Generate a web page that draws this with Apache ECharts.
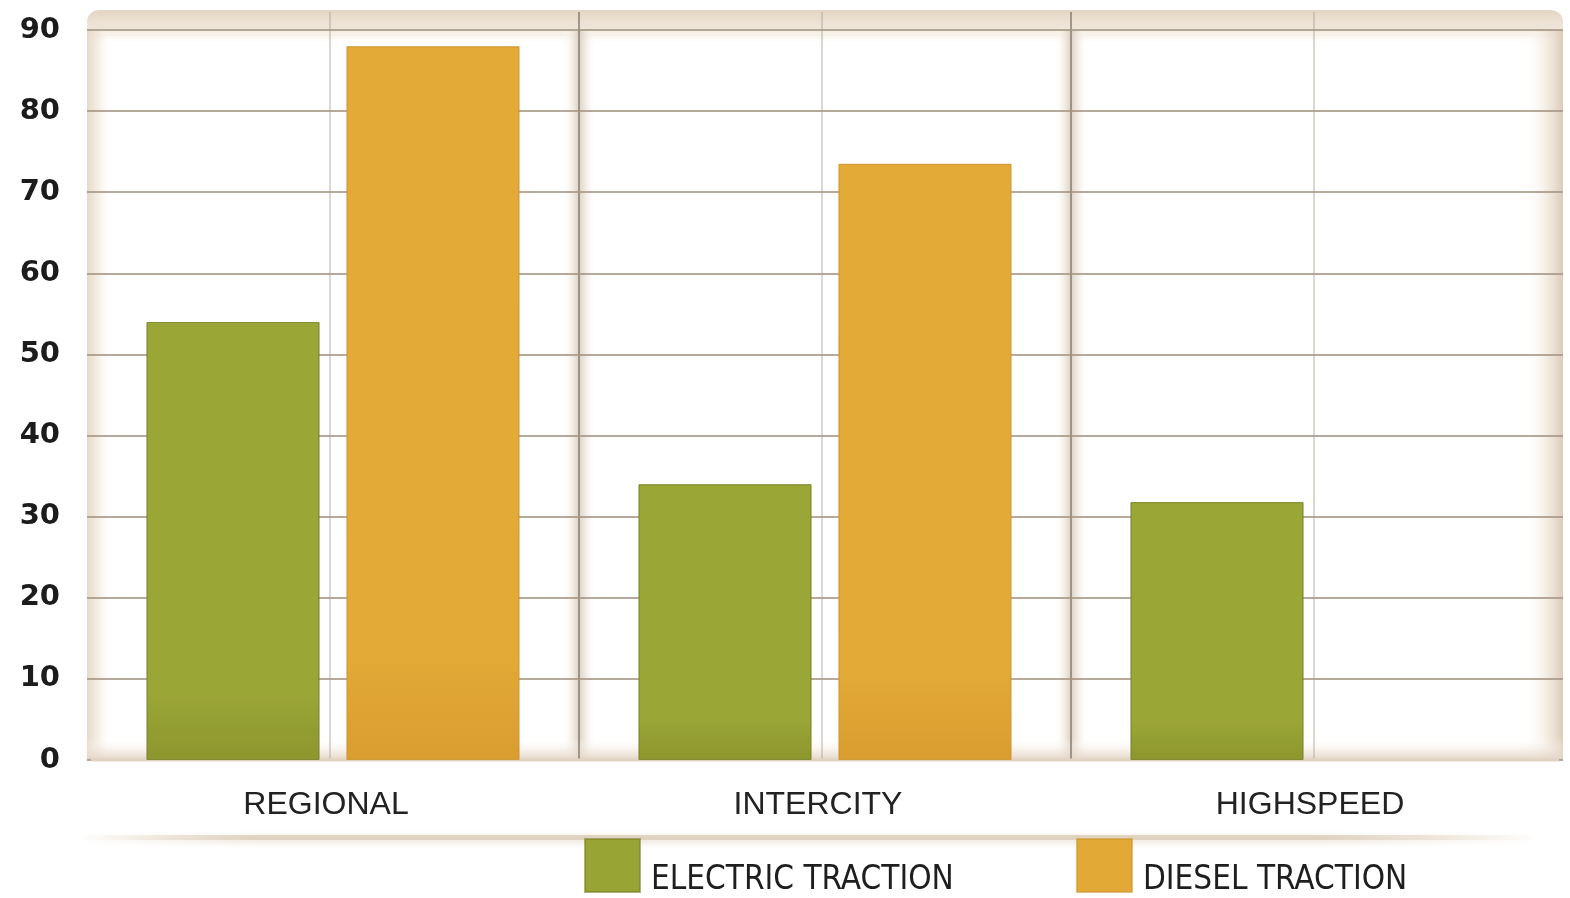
<!DOCTYPE html>
<html>
<head>
<meta charset="utf-8">
<title>Electric vs diesel traction</title>
<script src="https://cdn.jsdelivr.net/npm/echarts@6/dist/echarts.min.js"></script>
<style>
  html, body { margin: 0; padding: 0; background: #ffffff; }
  #chart { width: 1570px; height: 898px; }
</style>
</head>
<body>
<div id="chart"></div>
<script>
// Service categories and shares per traction type
const categories = ['REGIONAL', 'INTERCITY', 'HIGHSPEED'];
const electricTraction = [54, 34, 31.8];
const dieselTraction = [88, 73.5, null];
const seriesNames = ['ELECTRIC TRACTION', 'DIESEL TRACTION'];
const yMin = 0;
const yMax = 90;
const yStep = 10;

const W = 1570, H = 898;
const GRID = { left: 87, right: 7, top: 30, bottom: 138 };
const plotLeft = GRID.left, plotRight = W - GRID.right;
const plotBottom = H - GRID.bottom;
const panelTop = 10;

const GREEN = '#98a535';
const ORANGE = '#e2a936';
const BEIGE = '#e6d9c8';
const FONT = '"Liberation Sans", Arial, sans-serif';
const NUMFONT = '"DejaVu Sans", "Liberation Sans", sans-serif';
const NARROW = '"Liberation Sans Narrow", "DejaVu Sans Condensed", "Liberation Sans", sans-serif';

function lin(x0, y0, x1, y1, stops) {
  return new echarts.graphic.LinearGradient(x0, y0, x1, y1,
    stops.map(s => ({ offset: s[0], color: s[1] })));
}

// framed panels with soft beige edges, one per category, plus the vertical rules
function frameGraphics(centers) {
  const els = [];
  const n = categories.length;
  const bounds = [plotLeft];
  for (let i = 0; i < n - 1; i++) bounds.push((centers[i] + centers[i + 1]) / 2);
  bounds.push(plotRight);
  const h = plotBottom - panelTop;

  // white base with rounded outer corners
  els.push({
    type: 'rect', z: -30, silent: true,
    shape: { x: plotLeft, y: panelTop, width: plotRight - plotLeft, height: h, r: [12, 12, 8, 8] },
    style: { fill: '#ffffff' }
  });
  // top band above the highest rule
  els.push({
    type: 'rect', z: -29, silent: true,
    shape: { x: plotLeft, y: panelTop, width: plotRight - plotLeft, height: 24, r: [12, 12, 0, 0] },
    style: { fill: lin(0, 0, 0, 1, [[0, '#e3d5c3'], [0.45, '#ebe0d2'], [0.8, '#efe6da'], [1, 'rgba(245,238,228,0.6)']]) }
  });
  els.push({
    type: 'rect', z: -29, silent: true,
    shape: { x: plotLeft, y: panelTop + 24, width: plotRight - plotLeft, height: 10 },
    style: { fill: lin(0, 0, 0, 1, [[0, 'rgba(240,230,215,0.7)'], [1, 'rgba(255,255,255,0)']]) }
  });

  for (let i = 0; i < n; i++) {
    const x0 = bounds[i], x1 = bounds[i + 1];
    const lw = i === 0 ? 24 : 16;
    const rw = i === n - 1 ? 40 : 16;
    // left edge fade
    els.push({
      type: 'rect', z: -28, silent: true,
      shape: { x: x0, y: panelTop + 20, width: lw, height: h - 20 },
      style: { fill: lin(0, 0, 1, 0, [[0, i === 0 ? BEIGE : 'rgba(215,205,192,0.9)'], [0.5, 'rgba(238,229,216,0.6)'], [1, 'rgba(255,255,255,0)']]) }
    });
    // right edge fade
    els.push({
      type: 'rect', z: -28, silent: true,
      shape: { x: x1 - rw, y: panelTop + 20, width: rw, height: h - 20 },
      style: { fill: lin(0, 0, 1, 0, [[0, 'rgba(255,255,255,0)'], [0.55, 'rgba(238,228,214,0.6)'], [1, i === n - 1 ? '#dccbb6' : 'rgba(215,205,192,0.9)']]) }
    });
    // bottom edge fade
    els.push({
      type: 'rect', z: -28, silent: true,
      shape: { x: x0, y: plotBottom - 22, width: x1 - x0, height: 22 },
      style: { fill: lin(0, 0, 0, 1, [[0, 'rgba(255,255,255,0)'], [0.6, 'rgba(238,226,214,0.6)'], [1, 'rgba(225,210,196,0.95)']]) }
    });
  }

  // category dividers
  for (let i = 1; i < n; i++) {
    const x = bounds[i];
    els.push({
      type: 'line', z: -10, silent: true,
      shape: { x1: x, y1: panelTop + 2, x2: x, y2: plotBottom },
      style: { stroke: 'rgba(135,125,115,0.75)', lineWidth: 2 }
    });
  }
  // center rules
  centers.forEach(c => {
    els.push({
      type: 'line', z: -10, silent: true,
      shape: { x1: c - 3, y1: panelTop + 2, x2: c - 3, y2: plotBottom },
      style: { stroke: 'rgba(170,160,150,0.55)', lineWidth: 1.5 }
    });
  });

  // hides the rule at the zero line under the bottom rim
  els.push({
    type: 'rect', z: 1, silent: true,
    shape: { x: plotLeft + 4, y: plotBottom - 1.5, width: plotRight - plotLeft - 8, height: 3 },
    style: { fill: '#e2d3c2' }
  });

  // shelf line under the category labels
  els.push({
    type: 'rect', z: -18, silent: true,
    shape: { x: 80, y: 835, width: 1460, height: 5 },
    style: {
      fill: lin(0, 0, 1, 0, [[0, 'rgba(225,210,190,0)'], [0.12, 'rgba(222,208,188,0.9)'], [0.85, 'rgba(222,208,188,0.9)'], [1, 'rgba(225,210,190,0)']]),
      shadowBlur: 6, shadowColor: 'rgba(220,205,185,0.8)', shadowOffsetY: 2
    }
  });
  return els;
}

function barFill(top, bottom) {
  return lin(0, 0, 0, 1, [[0, top], [0.85, top], [1, bottom]]);
}

function legendEntry(name, color, left) {
  return {
    left: left, top: 829,
    itemWidth: 55, itemHeight: 53, icon: 'rect',
    selectedMode: false,
    data: [{ name: name, itemStyle: { color: color } }],
    formatter: '{t|{name}}',
    textStyle: {
      rich: {
        t: { fontFamily: NARROW, fontSize: 33, color: '#1e1e1e', lineHeight: 34, padding: [30, 0, 0, 6] }
      }
    }
  };
}

const chart = echarts.init(document.getElementById('chart'), null, { renderer: 'canvas' });

const option = {
  animation: false,
  backgroundColor: '#ffffff',
  grid: { left: GRID.left, right: GRID.right, top: GRID.top, bottom: GRID.bottom, containLabel: false },
  legend: [
    legendEntry(seriesNames[0], GREEN, 579),
    legendEntry(seriesNames[1], ORANGE, 1071)
  ],
  xAxis: {
    type: 'category',
    data: categories,
    boundaryGap: true,
    axisLine: { show: false },
    axisTick: { show: false },
    splitLine: { show: false },
    axisLabel: {
      margin: 29, fontFamily: FONT, fontSize: 32, color: '#222222',
      padding: [0, 14, 0, 0]
    }
  },
  yAxis: {
    type: 'value',
    min: yMin, max: yMax, interval: yStep,
    axisLine: { show: false },
    axisTick: { show: false },
    axisLabel: {
      margin: 27, fontFamily: NUMFONT, fontSize: 29, fontWeight: 'bold', color: '#1c1c1c'
    },
    splitLine: {
      show: true,
      lineStyle: { color: 'rgba(165,148,130,0.8)', width: 2 }
    }
  },
  series: [
    {
      name: seriesNames[0],
      type: 'bar',
      data: electricTraction,
      barWidth: 173,
      barGap: '15.6%',
      z: 3,
      itemStyle: {
        color: barFill('#9aa636', '#8c962e'),
        borderColor: 'rgba(120,130,40,0.6)', borderWidth: 1
      }
    },
    {
      name: seriesNames[1],
      type: 'bar',
      data: dieselTraction,
      barWidth: 173,
      barGap: '15.6%',
      z: 3,
      itemStyle: {
        color: barFill('#e3aa37', '#d99d30'),
        borderColor: 'rgba(205,150,45,0.6)', borderWidth: 1
      }
    }
  ]
};

chart.setOption(option);

// place the frame using the category axis positions
const centers = categories.map(c => chart.convertToPixel({ xAxisIndex: 0 }, c));
chart.setOption({ graphic: frameGraphics(centers) });
</script>
</body>
</html>
